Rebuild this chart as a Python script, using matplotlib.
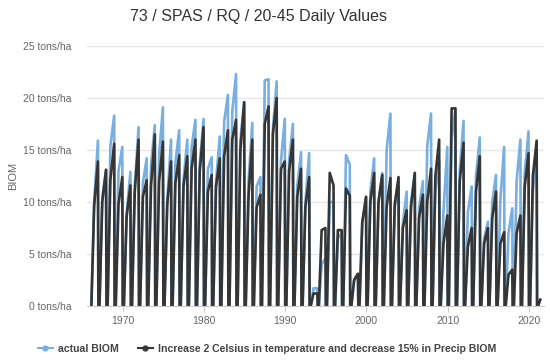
import matplotlib
matplotlib.use("Agg")
import matplotlib.pyplot as plt
from matplotlib.lines import Line2D

# one growing season per year, values in tons/ha
seasons = list(range(1966, 2021))

actual_mid = [10.0, 10.5, 15.4, 13.0, 9.0, 11.5, 11.8, 13.5, 14.6, 10.2,
              13.8, 12.2, 15.3, 13.6, 13.2, 12.0, 17.7, 18.7, 16.0, 12.0,
              11.5, 21.7, 17.0, 14.0, 14.0, 11.5, 10.0, 1.7, 4.0, 10.0,
              6.5, 14.5, 2.5, 8.0, 11.0, 10.0, 15.0, 9.5, 8.0, 10.0,
              9.5, 15.4, 11.0, 9.1, 16.0, 13.0, 9.0, 12.5, 6.5, 10.0,
              10.2, 7.0, 12.0, 12.8, 11.0]
actual_peak = [15.9, 13.1, 18.3, 15.3, 12.9, 17.2, 14.2, 17.4, 19.1, 16.0,
               16.9, 16.0, 17.9, 18.0, 14.3, 16.3, 20.3, 22.3, 19.6, 17.6,
               12.4, 21.8, 21.6, 18.0, 17.5, 14.8, 14.7, 1.7, 4.6, 10.0,
               7.0, 13.6, 3.1, 10.5, 14.2, 12.8, 18.5, 11.5, 11.0, 12.8,
               12.0, 18.5, 14.0, 15.3, 19.0, 17.8, 11.5, 16.2, 8.1, 12.6,
               15.3, 9.4, 16.0, 16.8, 15.0]

scen_mid = [9.6, 10.0, 12.1, 9.8, 8.6, 11.0, 10.5, 11.5, 12.0, 9.8,
            11.8, 11.5, 13.2, 13.0, 11.0, 11.5, 14.4, 16.0, 15.0, 10.5,
            9.5, 17.5, 16.5, 13.2, 13.0, 10.5, 9.5, 1.2, 7.3, 12.8,
            7.3, 11.3, 2.5, 8.0, 10.0, 10.0, 9.5, 9.8, 7.5, 9.5,
            8.5, 10.0, 12.5, 6.0, 19.0, 12.0, 5.7, 11.0, 6.0, 8.5,
            6.0, 3.0, 7.0, 11.5, 12.5]
scen_peak = [13.9, 13.1, 15.6, 12.4, 11.6, 16.0, 12.1, 16.5, 15.8, 13.9,
             14.5, 14.4, 16.0, 17.2, 12.6, 14.2, 16.9, 17.9, 19.6, 16.0,
             10.7, 19.2, 20.0, 13.9, 16.0, 13.2, 12.4, 1.2, 7.5, 11.6,
             7.3, 10.6, 3.1, 10.5, 12.8, 12.6, 12.3, 12.4, 9.2, 12.8,
             10.7, 13.2, 16.0, 8.7, 19.0, 15.7, 7.5, 14.4, 7.5, 11.0,
             7.1, 3.5, 8.7, 14.7, 15.9]

# last (partial) season in 2021
last_days = [40, 140]
actual_last = [0.0, 0.6]
scen_last = [0.0, 0.6]

# day of year of the season's points: start, mid season, peak, harvest
season_days = [50, 175, 345, 365]

years = [1970, 1980, 1990, 2000, 2010, 2020]
yticks = [0, 5, 10, 15, 20, 25]


def build(mids, peaks, last):
    xs, ys = [], []
    for yr, m, p in zip(seasons, mids, peaks):
        for d, v in zip(season_days, [0.0, m, p, 0.0]):
            xs.append(yr + d / 365.0)
            ys.append(v)
    for d, v in zip(last_days, last):
        xs.append(2021 + d / 365.0)
        ys.append(v)
    return xs, ys


blue = "#7aaedd"
dark = "#353535"
grey = "#666666"

plt.rcParams["font.family"] = ["Liberation Sans", "DejaVu Sans"]
fig = plt.figure(figsize=(5.5, 3.61), dpi=100)
ax = fig.add_axes([87 / 550, 1 - 306 / 361, (544 - 87) / 550, (306 - 46) / 361])

x1, y1 = build(actual_mid, actual_peak, actual_last)
x2, y2 = build(scen_mid, scen_peak, scen_last)
ax.plot(x1, y1, color=blue, lw=1.9)
ax.plot(x2, y2, color=dark, lw=1.9)

ax.set_xlim(1965.6, 2021.85)
ax.set_ylim(0, 25)
ax.set_xticks(years)
ax.set_xticklabels([str(y) for y in years])
ax.set_yticks(yticks)
ax.set_yticklabels([f"{v} tons/ha" for v in yticks])
ax.grid(axis="y", color="#e6e6e6", lw=1)
ax.set_axisbelow(True)
for s in ["top", "right", "left"]:
    ax.spines[s].set_visible(False)
ax.spines["bottom"].set_color("#cccccc")
ax.tick_params(axis="x", colors="#cccccc", length=4, labelcolor=grey, labelsize=7.5, pad=3)
ax.tick_params(axis="y", length=0, labelcolor=grey, labelsize=7.5, pad=11)

fig.text(13 / 550, 1 - 176 / 361, "BIOM", rotation=90, ha="center", va="center",
         color=grey, fontsize=8)
fig.text(258 / 550, 1 - 17 / 361, "73 / SPAS / RQ / 20-45 Daily Values",
         ha="center", va="center", color="#333333", fontsize=11.5)

handles = [Line2D([], [], color=blue, lw=1.5, marker="o", markersize=3.5),
           Line2D([], [], color=dark, lw=1.5, marker="o", markersize=3.5)]
labels = ["actual BIOM",
          "Increase 2 Celsius in temperature and decrease 15% in Precip BIOM"]
leg = fig.legend(handles, labels, loc="center", bbox_to_anchor=(267 / 550, 1 - 349 / 361),
                 ncol=2, frameon=False, handlelength=1.4, handletextpad=0.5,
                 columnspacing=1.8, prop={"weight": "bold", "size": 7.6})
for t in leg.get_texts():
    t.set_color("#444444")

fig.savefig("out.png", dpi=100)
